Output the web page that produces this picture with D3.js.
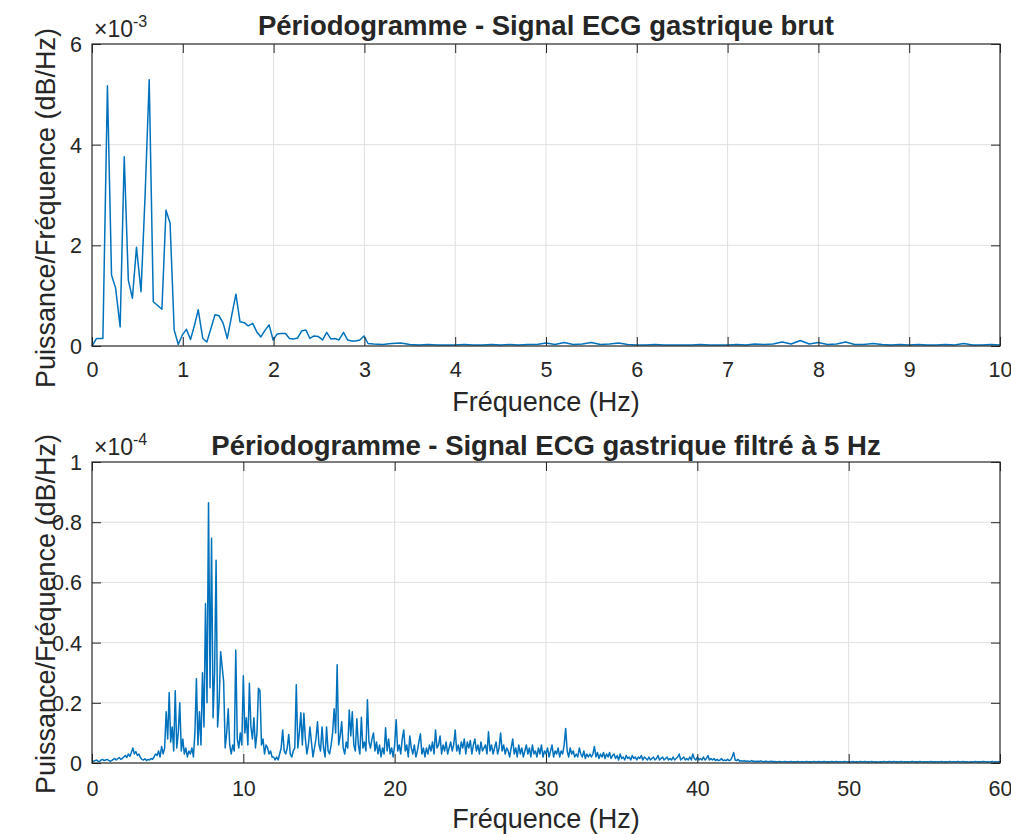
<!DOCTYPE html>
<html><head><meta charset="utf-8">
<script src="https://cdn.jsdelivr.net/npm/d3@7"></script>
<style>
body{margin:0;background:#fff;}
svg{display:block;}
text{font-family:"Liberation Sans",Arial,Helvetica,sans-serif;fill:#262626;}
</style></head><body>
<svg id="chart" width="1011" height="834"></svg>
<script>
// ---------- DATA ----------
const topTitle = "Périodogramme - Signal ECG gastrique brut";
const bottomTitle = "Périodogramme - Signal ECG gastrique filtré à 5 Hz";
const xLabel = "Fréquence (Hz)";
const yLabel = "Puissance/Fréquence (dB/Hz)";

// Top: frequency (Hz) and power (×10^-3)
const topFreq = [0,0.05,0.12,0.17,0.215,0.26,0.31,0.355,0.40,0.445,0.49,0.54,0.585,0.63,0.675,0.72,0.77,0.815,0.86,0.905,
0.95,0.995,1.04,1.085,1.13,1.17,1.22,1.265,1.31,1.355,1.40,1.445,1.49,1.54,1.585,1.63,1.68,1.72,1.77,1.815,
1.86,1.905,1.95,1.995,2.04,2.085,2.13,2.175,2.22,2.265,2.31,2.355,2.40,2.445,2.49,2.54,2.585,2.63,2.675,2.72,
2.77,2.815,2.86,2.905,2.95,2.995,3.04,
3.1,3.2,3.3,3.4,3.5,3.6,3.7,3.8,3.9,4.0,4.1,4.2,4.3,4.4,4.5,4.6,4.7,4.8,4.9,5.0,
5.1,5.2,5.3,5.4,5.5,5.6,5.7,5.8,5.9,6.0,6.1,6.2,6.3,6.4,6.5,6.6,6.7,6.8,6.9,7.0,
7.1,7.2,7.3,7.4,7.5,7.6,7.7,7.8,7.9,8.0,8.1,8.2,8.3,8.4,8.5,8.6,8.7,8.8,8.9,9.0,
9.1,9.2,9.3,9.4,9.5,9.6,9.7,9.8,9.9,10.0];
const topPower = [0,0.15,0.15,5.17,1.41,1.15,0.38,3.76,1.31,0.95,1.96,1.08,3.0,5.29,0.88,0.81,0.73,2.70,2.44,0.32,
0.03,0.22,0.33,0.13,0.42,0.72,0.15,0.08,0.35,0.62,0.60,0.45,0.15,0.62,1.03,0.48,0.46,0.40,0.45,0.28,
0.18,0.31,0.42,0.12,0.24,0.25,0.25,0.15,0.14,0.16,0.30,0.32,0.15,0.20,0.19,0.12,0.27,0.14,0.15,0.12,
0.27,0.12,0.10,0.10,0.12,0.20,0.05,
0.04,0.03,0.05,0.06,0.03,0.02,0.03,0.02,0.02,0.02,0.03,0.02,0.02,0.03,0.02,0.03,0.02,0.03,0.03,0.06,
0.03,0.07,0.03,0.04,0.07,0.03,0.04,0.06,0.03,0.02,0.02,0.03,0.02,0.02,0.02,0.02,0.03,0.02,0.02,0.02,
0.03,0.02,0.04,0.03,0.04,0.08,0.04,0.11,0.04,0.07,0.03,0.04,0.08,0.03,0.03,0.05,0.03,0.02,0.03,0.02,
0.03,0.02,0.02,0.03,0.02,0.05,0.02,0.02,0.03,0.02];

// Bottom: power (×10^-4) sampled every bottomStep Hz from 0 Hz
const bottomStep = 0.1;
const bottomPower = [
0.005,0.006,0.008,0.010,0.006,0.005,0.010,0.012,0.008,0.010,
0.012,0.009,0.006,0.008,0.012,0.015,0.010,0.014,0.018,0.012,
0.015,0.020,0.025,0.018,0.030,0.022,0.035,0.050,0.030,0.038,
0.025,0.030,0.018,0.012,0.010,0.014,0.008,0.012,0.010,0.015,
0.012,0.020,0.030,0.025,0.040,0.020,0.055,0.030,0.050,0.170,
0.080,0.234,0.070,0.120,0.040,0.240,0.050,0.100,0.200,0.040,
0.080,0.030,0.050,0.020,0.040,0.030,0.050,0.020,0.100,0.280,
0.060,0.170,0.060,0.300,0.120,0.530,0.200,0.865,0.250,0.747,
0.150,0.300,0.674,0.120,0.200,0.370,0.320,0.270,0.050,0.100,
0.180,0.060,0.030,0.060,0.040,0.375,0.080,0.050,0.100,0.060,
0.290,0.100,0.150,0.060,0.265,0.120,0.080,0.150,0.050,0.100,
0.248,0.240,0.060,0.080,0.030,0.060,0.050,0.030,0.040,0.020,
0.020,0.010,0.020,0.010,0.030,0.050,0.110,0.040,0.030,0.050,
0.095,0.030,0.020,0.040,0.050,0.260,0.050,0.100,0.167,0.060,
0.165,0.080,0.030,0.060,0.120,0.070,0.020,0.050,0.080,0.137,
0.060,0.040,0.120,0.050,0.020,0.120,0.040,0.030,0.060,0.100,
0.180,0.100,0.326,0.060,0.090,0.137,0.050,0.030,0.070,0.050,
0.176,0.090,0.170,0.060,0.040,0.147,0.060,0.030,0.152,0.050,
0.070,0.040,0.210,0.070,0.050,0.080,0.100,0.040,0.070,0.030,
0.060,0.020,0.050,0.030,0.117,0.040,0.080,0.030,0.050,0.020,
0.060,0.144,0.040,0.060,0.030,0.080,0.110,0.040,0.060,0.020,
0.090,0.050,0.030,0.060,0.020,0.040,0.070,0.097,0.030,0.050,
0.020,0.050,0.030,0.060,0.040,0.070,0.030,0.110,0.050,0.060,
0.090,0.030,0.060,0.040,0.070,0.030,0.050,0.070,0.040,0.060,
0.110,0.040,0.060,0.030,0.070,0.050,0.080,0.030,0.070,0.050,
0.075,0.030,0.060,0.080,0.040,0.060,0.030,0.070,0.040,0.050,
0.060,0.030,0.104,0.040,0.060,0.030,0.050,0.070,0.030,0.050,
0.100,0.040,0.060,0.030,0.050,0.040,0.020,0.050,0.080,0.030,
0.050,0.020,0.060,0.030,0.050,0.020,0.040,0.060,0.030,0.050,
0.020,0.060,0.030,0.040,0.020,0.050,0.030,0.060,0.020,0.040,
0.030,0.050,0.020,0.040,0.060,0.020,0.040,0.030,0.050,0.020,
0.040,0.030,0.060,0.115,0.040,0.020,0.050,0.030,0.040,0.020,
0.030,0.020,0.050,0.030,0.020,0.040,0.015,0.030,0.020,0.030,
0.020,0.030,0.055,0.020,0.035,0.015,0.030,0.020,0.035,0.015,
0.030,0.020,0.035,0.015,0.025,0.030,0.015,0.025,0.010,0.030,
0.015,0.020,0.010,0.025,0.015,0.020,0.010,0.025,0.015,0.020,
0.010,0.020,0.015,0.025,0.010,0.020,0.015,0.010,0.020,0.010,
0.015,0.020,0.010,0.015,0.025,0.010,0.015,0.020,0.010,0.015,
0.020,0.010,0.015,0.010,0.020,0.010,0.015,0.020,0.030,0.010,
0.015,0.020,0.010,0.015,0.010,0.020,0.010,0.030,0.015,0.010,
0.020,0.010,0.015,0.010,0.020,0.010,0.015,0.025,0.010,0.015,
0.010,0.015,0.008,0.012,0.008,0.010,0.015,0.008,0.010,0.008,
0.012,0.008,0.010,0.020,0.035,0.010,0.008,0.012,0.006,0.008,
0.006,0.008,0.005,0.007,0.005,0.006,0.008,0.005,0.006,0.005,
0.006,0.005,0.007,0.005,0.004,0.006,0.005,0.004,0.005,0.006,
0.004,0.005,0.004,0.003,0.005,0.004,0.003,0.004,0.005,0.004,
0.003,0.004,0.005,0.003,0.004,0.003,0.005,0.004,0.003,0.004,
0.004,0.003,0.005,0.004,0.003,0.004,0.003,0.005,0.004,0.003,
0.005,0.004,0.003,0.004,0.005,0.003,0.004,0.003,0.004,0.005,
0.003,0.004,0.005,0.003,0.004,0.004,0.003,0.005,0.004,0.003,
0.004,0.003,0.004,0.005,0.003,0.004,0.003,0.004,0.005,0.003,
0.004,0.005,0.003,0.004,0.003,0.005,0.004,0.003,0.004,0.003,
0.003,0.004,0.003,0.005,0.004,0.003,0.004,0.005,0.003,0.004,
0.005,0.003,0.004,0.003,0.004,0.005,0.003,0.004,0.003,0.004,
0.003,0.004,0.005,0.004,0.003,0.004,0.003,0.005,0.004,0.003,
0.004,0.003,0.004,0.003,0.005,0.004,0.003,0.004,0.003,0.004,
0.003,0.005,0.004,0.003,0.004,0.003,0.004,0.005,0.003,0.004,
0.004,0.003,0.005,0.004,0.003,0.004,0.005,0.003,0.004,0.003,
0.003,0.004,0.003,0.004,0.005,0.003,0.004,0.003,0.004,0.005,
0.004,0.003,0.004,0.003,0.004,0.005,0.003,0.004,0.003,0.004,
0.003];

const topXTicks = [0,1,2,3,4,5,6,7,8,9,10];
const topYTicks = [0,2,4,6];
const bottomXTicks = [0,10,20,30,40,50,60];
const bottomYTicks = [0,0.2,0.4,0.6,0.8,1];
const topExp = "-3", bottomExp = "-4";

// ---------- DRAW ----------
const svg = d3.select("#chart");
const lineColor = "#0072BD";
const axisColor = "#262626";
const gridColor = "#dfdfdf";
const tickFont = "21.5px";

function panel(cfg){
  const {left,right,top,bottom,xDomain,yDomain,xTicks,yTicks,data,title,exp,titleY,tickY,xLabelY,yLabelCenter,yTickFmt} = cfg;
  const x = d3.scaleLinear().domain(xDomain).range([left,right]);
  const y = d3.scaleLinear().domain(yDomain).range([bottom,top]);
  const g = svg.append("g");
  // grid
  g.append("g").selectAll("line").data(xTicks.slice(1,-1)).join("line")
    .attr("x1",d=>x(d)).attr("x2",d=>x(d)).attr("y1",top).attr("y2",bottom)
    .attr("stroke",gridColor).attr("stroke-width",1);
  g.append("g").selectAll("line").data(yTicks.slice(1,-1)).join("line")
    .attr("x1",left).attr("x2",right).attr("y1",d=>y(d)).attr("y2",d=>y(d))
    .attr("stroke",gridColor).attr("stroke-width",1);
  // line
  g.append("path").datum(data)
    .attr("fill","none").attr("stroke",lineColor).attr("stroke-width",1.5)
    .attr("stroke-linejoin","round")
    .attr("d",d3.line().x(d=>x(d[0])).y(d=>y(d[1])));
  // axes
  const tl = 9;
  const ax = (axis, tr) => {
    const a = g.append("g").attr("transform",tr).call(axis);
    a.select(".domain").remove();
    a.selectAll(".tick line").attr("stroke",axisColor).attr("stroke-width",1);
    return a;
  };
  const xb = ax(d3.axisBottom(x).tickValues(xTicks).tickSize(-tl).tickPadding(0).tickFormat(d3.format("d")), `translate(0,${bottom})`);
  xb.selectAll(".tick text").attr("y", tickY - bottom).attr("dy",null)
    .style("font-size",tickFont).attr("fill",axisColor);
  ax(d3.axisTop(x).tickValues(xTicks).tickSize(-tl).tickFormat(""), `translate(0,${top})`);
  const yl = ax(d3.axisLeft(y).tickValues(yTicks).tickSize(-tl).tickPadding(10).tickFormat(yTickFmt), `translate(${left},0)`);
  yl.selectAll(".tick text").attr("x",-10).attr("dy","0.35em").style("font-size",tickFont).attr("fill",axisColor);
  ax(d3.axisRight(y).tickValues(yTicks).tickSize(-tl).tickFormat(""), `translate(${right},0)`);
  // box
  g.append("rect").attr("x",left).attr("y",top).attr("width",right-left).attr("height",bottom-top)
    .attr("fill","none").attr("stroke",axisColor).attr("stroke-width",1.2);
  // exponent
  const e = g.append("text").attr("x",left+2).attr("y",top-7).style("font-size","23px").attr("fill","#555");
  e.append("tspan").text("×10");
  e.append("tspan").attr("dy",-10).style("font-size","16px").text(exp);
  // title
  g.append("text").attr("x",(left+right)/2).attr("y",titleY).attr("text-anchor","middle")
    .style("font-size","27.5px").style("font-weight","bold").attr("fill","#000").text(title);
  // x label
  g.append("text").attr("x",(left+right)/2).attr("y",xLabelY).attr("text-anchor","middle")
    .style("font-size","27px").text(xLabel);
  // y label
  g.append("text").attr("transform",`translate(55,${yLabelCenter}) rotate(-90)`).attr("text-anchor","middle")
    .style("font-size","27px").text(yLabel);
}

panel({left:92,right:1000,top:44,bottom:346,xDomain:[0,10],yDomain:[0,6],xTicks:topXTicks,yTicks:topYTicks,
  data:topFreq.map((f,i)=>[f,topPower[i]]),title:topTitle,exp:topExp,titleY:35,tickY:377,xLabelY:411,yLabelCenter:208,
  yTickFmt:d3.format("d")});
panel({left:92,right:1000,top:462,bottom:763,xDomain:[0,60],yDomain:[0,1],xTicks:bottomXTicks,yTicks:bottomYTicks,
  data:bottomPower.map((v,i)=>[i*bottomStep,v]),title:bottomTitle,exp:bottomExp,titleY:455,tickY:796,xLabelY:828,yLabelCenter:614,
  yTickFmt:d=>d===0||d===1?String(d):d3.format(".1f")(d)});
</script></body></html>
